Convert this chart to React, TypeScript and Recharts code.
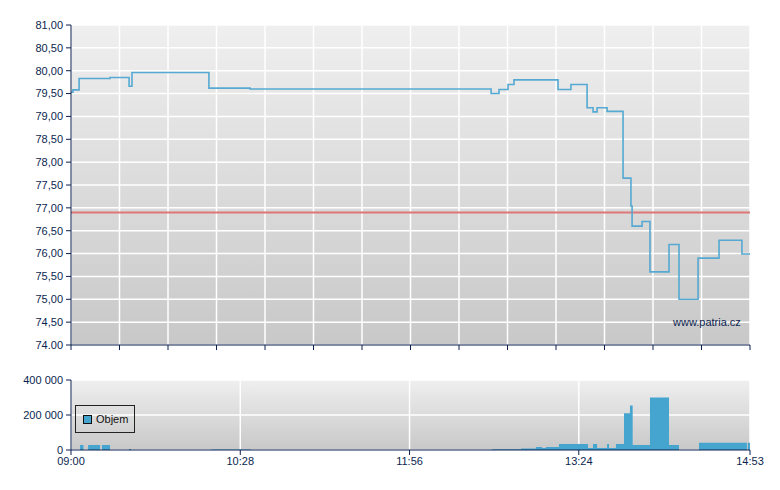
import React from 'react';
import {
  LineChart, Line, AreaChart, Area, XAxis, YAxis, CartesianGrid, ReferenceLine,
} from 'recharts';

// minutes since 09:00 and price
const priceMinutes = [0, 1.0, 4.2, 20.3, 30.2, 31.7, 71.7, 93.1, 218.4, 222.5, 227.2, 230.3, 253.2, 259.9, 268.3, 271.4, 273.5, 278.7, 287.0, 291.1, 291.7, 296.9, 301.0, 310.9, 316.1, 326.0, 336.9, 348.8, 353];
const priceValues = [79.53, 79.58, 79.83, 79.85, 79.66, 79.96, 79.62, 79.60, 79.50, 79.59, 79.70, 79.80, 79.59, 79.70, 79.19, 79.10, 79.19, 79.11, 77.65, 77.04, 76.60, 76.70, 75.60, 76.20, 75.00, 75.90, 76.29, 75.99, 75.99];

const volumeMinutes = [0, 4.7, 6.5, 8.9, 15.1, 16.1, 20.3, 30.2, 31.2, 72.8, 93.6, 218.9, 234.0, 241.7, 244.9, 246.9, 253.7, 268.8, 271.4, 273.5, 278.7, 279.7, 283.3, 287.5, 290.6, 292.0, 301.0, 310.9, 316.1, 326.5, 351.4, 351.9, 353];
const volumeValues = [0, 28000, 0, 28000, 0, 28000, 0, 6000, 0, 3000, 0, 5000, 9000, 17000, 12000, 17000, 35000, 12000, 35000, 12000, 35000, 12000, 35000, 210000, 255000, 28000, 300000, 28000, 0, 42000, 0, 42000, 42000];

const referencePrice = 76.9;
const priceTicks = [74, 74.5, 75, 75.5, 76, 76.5, 77, 77.5, 78, 78.5, 79, 79.5, 80, 80.5, 81];
const volumeTicks = [0, 200000, 400000];
const timeTicks = [0, 88, 176, 264, 353];
const timeLabels = ['09:00', '10:28', '11:56', '13:24', '14:53'];
const topGridTicks = Array.from({ length: 15 }, (_, i) => (i * 353) / 14);

const priceData = priceMinutes.map((m, i) => ({ m, price: priceValues[i] }));
const volumeData = volumeMinutes.map((m, i) => ({ m, vol: volumeValues[i] }));

const NAVY = '#0b1f4f';
const FONT = 'Liberation Sans, Arial, sans-serif';

const fmtPrice = (v: number) => (v === 74 ? '74.00' : v.toFixed(2).replace('.', ','));
const fmtVol = (v: number) => String(v).replace(/\B(?=(\d{3})+(?!\d))/g, ' ');
const fmtTime = (v: number) => {
  const i = timeTicks.indexOf(v);
  return i >= 0 ? timeLabels[i] : '';
};

export default function App() {
  return (
    <div style={{ position: 'absolute', left: 0, top: 0, width: 780, height: 490, background: '#fff' }}>
      <div style={{ position: 'absolute', left: 0, top: 0 }}>
        <LineChart width={780} height={360} data={priceData} margin={{ top: 25, right: 30, left: 0, bottom: 5 }}>
          <defs>
            <linearGradient id="bgTop" x1="0" y1="0" x2="0" y2="1">
              <stop offset="0%" stopColor="#efefef" />
              <stop offset="100%" stopColor="#c8c8c8" />
            </linearGradient>
          </defs>
          <CartesianGrid stroke="#ffffff" strokeWidth={1.5} fill="url(#bgTop)" fillOpacity={1} />
          <XAxis dataKey="m" type="number" domain={[0, 353]} ticks={topGridTicks} tickFormatter={() => ''}
            height={10} tickSize={5} stroke={NAVY} axisLine={{ stroke: NAVY }} tickLine={{ stroke: NAVY }} interval={0} />
          <YAxis type="number" domain={[74, 81]} ticks={priceTicks} interval={0} width={71} tickSize={5} tickMargin={3}
            tickFormatter={fmtPrice} stroke={NAVY} tick={{ fill: NAVY, fontSize: 11, fontFamily: FONT }} />
          <ReferenceLine y={referencePrice} stroke="#dd7777" strokeWidth={2} />
          <Line type="stepAfter" dataKey="price" stroke="#55a9d2" strokeWidth={1.6} dot={false} isAnimationActive={false} />
        </LineChart>
      </div>
      <div style={{ position: 'absolute', left: 673, top: 316, fontFamily: FONT, fontSize: 11, color: NAVY }}>www.patria.cz</div>
      <div style={{ position: 'absolute', left: 0, top: 360 }}>
        <AreaChart width={780} height={130} data={volumeData} margin={{ top: 20, right: 30, left: 0, bottom: 10 }}>
          <defs>
            <linearGradient id="bgBot" x1="0" y1="0" x2="0" y2="1">
              <stop offset="0%" stopColor="#efefef" />
              <stop offset="100%" stopColor="#c8c8c8" />
            </linearGradient>
          </defs>
          <CartesianGrid stroke="#ffffff" strokeWidth={1.5} fill="url(#bgBot)" fillOpacity={1} />
          <XAxis dataKey="m" type="number" domain={[0, 353]} ticks={timeTicks} interval={0} tickFormatter={fmtTime}
            height={30} tickSize={5} tickMargin={2} stroke={NAVY} tick={{ fill: NAVY, fontSize: 11, fontFamily: FONT }} />
          <YAxis type="number" domain={[0, 400000]} ticks={volumeTicks} interval={0} width={71} tickSize={5} tickMargin={3}
            tickFormatter={fmtVol} stroke={NAVY} tick={{ fill: NAVY, fontSize: 11, fontFamily: FONT }} />
          <Area type="stepAfter" dataKey="vol" name="Objem" stroke="none" fill="#45a5cf" fillOpacity={1} isAnimationActive={false} />
        </AreaChart>
      </div>
      <div style={{
        position: 'absolute', left: 75, top: 405, border: '1px solid #222', width: 60, height: 28, boxSizing: 'border-box',
        display: 'flex', alignItems: 'center', fontFamily: FONT, fontSize: 11, color: '#111',
      }}>
        <span style={{ display: 'inline-block', width: 7, height: 7, background: '#45a5cf', border: '1px solid #111', marginLeft: 7, marginRight: 4 }} />
        Objem
      </div>
    </div>
  );
}
